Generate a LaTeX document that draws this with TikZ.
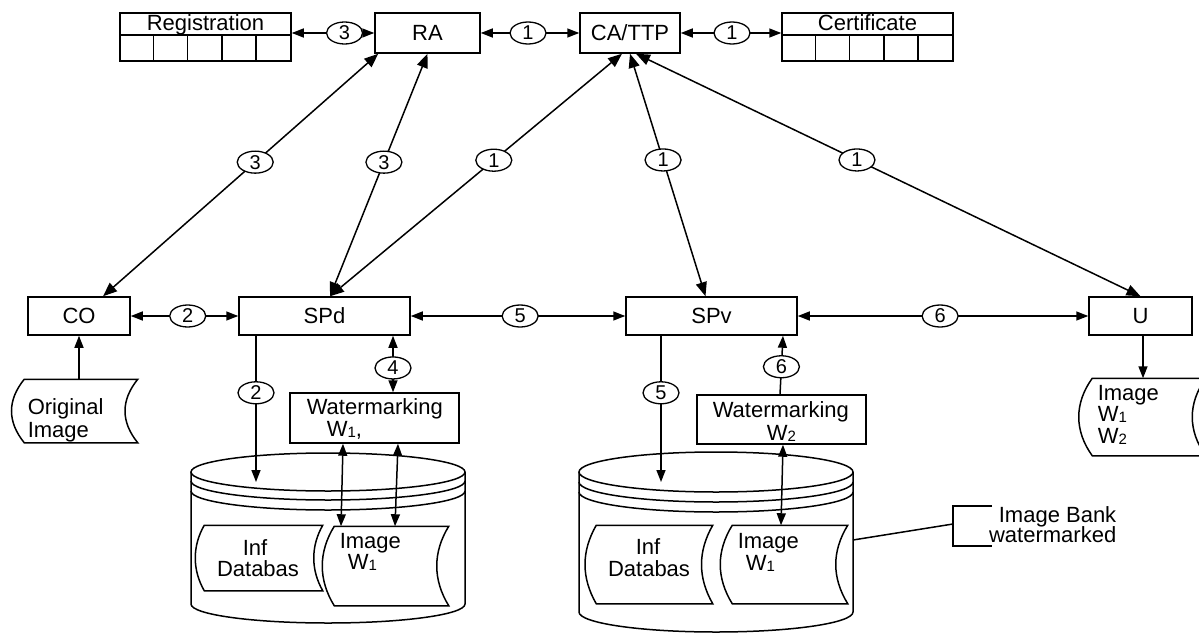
\documentclass[tikz,border=0pt]{standalone}
\usepackage{fontspec}
\setmainfont{Liberation Sans}
\usetikzlibrary{arrows.meta,shapes.geometric,calc}

% small lowered index digit, as in W1 / W2
\newcommand\sub[1]{\raisebox{-1pt}{\fontsize{15}{15}\selectfont #1}}
% "stored data" outline round an empty node: straight top and bottom,
% both sides bowed to the left
\newcommand\storedshape[3]{%
  \draw (#1.north west) -- (#1.north east)
    .. controls ($(#1.north east)+(-#2,#3)$) and ($(#1.south east)+(-#2,-#3)$) .. (#1.south east)
    -- (#1.south west)
    .. controls ($(#1.south west)+(-#2,-#3)$) and ($(#1.north west)+(-#2,#3)$) .. cycle;}

\begin{document}
\begin{tikzpicture}[x=1pt,y=-1pt,line width=1.5pt,
  every node/.style={font=\fontsize{22}{24}\selectfont},
  box/.style={draw,rectangle,inner sep=0pt},
  blank/.style={inner sep=0pt},
  txt/.style={inner sep=0pt},
  tag/.style={draw,ellipse,fill=white,inner sep=0pt,minimum width=36pt,
    minimum height=22pt,line width=1.3pt,font=\fontsize{20}{20}\selectfont},
  two/.style={{Triangle[length=12pt,width=9pt]}-{Triangle[length=12pt,width=9pt]}},
  twobig/.style={{Triangle[length=14pt,width=11pt]}-{Triangle[length=14pt,width=11pt]}},
  one/.style={-{Triangle[length=12pt,width=9pt]}}]

\useasboundingbox (0,0) rectangle (1199,634);
\fill[white] (0,0) rectangle (1199,634);

% ---------- top row ----------
\node[box,minimum width=105pt,minimum height=40pt] (ra) at (427.5,33) {RA};
\node[box,minimum width=100pt,minimum height=40pt] (ca) at (630,33) {CA/TTP};

\node[box,minimum width=171pt,minimum height=48pt] (reg) at (205.5,37) {};
\node[txt,anchor=base] (regt) at (205.5,31) {Registration};
\draw ([yshift=-23pt]reg.north west) -- ([yshift=-23pt]reg.north east);
\foreach \i in {1,...,4}
  \draw ([xshift=\i*34.2pt,yshift=-23pt]reg.north west) -- ([xshift=\i*34.2pt]reg.south west);

\node[box,minimum width=171pt,minimum height=48pt] (cert) at (867.5,37) {};
\node[txt,anchor=base] (certt) at (867.5,31) {Certificate};
\draw ([yshift=-23pt]cert.north west) -- ([yshift=-23pt]cert.north east);
\foreach \i in {1,...,4}
  \draw ([xshift=\i*34.2pt,yshift=-23pt]cert.north west) -- ([xshift=\i*34.2pt]cert.south west);

% ---------- middle row ----------
\node[box,minimum width=102pt,minimum height=38pt] (co) at (79,316) {CO};
\node[box,minimum width=171pt,minimum height=38pt] (spd) at (324.5,316) {SPd};
\node[box,minimum width=171pt,minimum height=38pt] (spv) at (711.5,316) {SPv};
\node[box,minimum width=103pt,minimum height=38pt] (u) at (1140.5,316) {U};

% watermarking units
\node[box,minimum width=169pt,minimum height=50pt] (wa) at (374.5,418) {};
\node[txt,anchor=base west] (wa1) at (306,414) {Watermarking};
\node[txt,anchor=base west] (wa2) at (326,436) {W\sub{1},};
\node[box,minimum width=169pt,minimum height=49pt] (wb) at (781.5,419.5) {};
\node[txt,anchor=base west] (wb1) at (712,417) {Watermarking};
\node[txt,anchor=base west] (wb2) at (766,440) {W\sub{2}};

% ---------- stored images ----------
\node[blank,minimum width=112pt,minimum height=62pt] (orig) at (81,411) {};
\storedshape{orig}{17}{21}
\node[txt,anchor=base west] (orig1) at (27,414) {Original};
\node[txt,anchor=base west] (orig2) at (27,437) {Image};

\node[blank,minimum width=112pt,minimum height=76pt] (imgu) at (1149,417) {};
\storedshape{imgu}{18}{25}
\node[txt,anchor=base west] (imgu1) at (1097,400) {Image};
\node[txt,anchor=base west] (imgu2) at (1097,421) {W\sub{1}};
\node[txt,anchor=base west] (imgu3) at (1097,443) {W\sub{2}};

% ---------- databases ----------
\draw[fill=white] (191,472) -- (191,604) arc[start angle=180,end angle=0,x radius=137,y radius=19] -- (465,472);
\draw (328,472) ellipse[x radius=137,y radius=19];
\draw (191,481) arc[start angle=180,end angle=0,x radius=137,y radius=19];
\draw (191,491) arc[start angle=180,end angle=0,x radius=137,y radius=19];

\node[blank,minimum width=117pt,minimum height=64pt] (infa) at (263.5,558) {};
\storedshape{infa}{12}{21}
\node[txt,anchor=base] (infa1) at (255,555) {Inf};
\node[txt,anchor=base] (infa2) at (258,576) {Databas};
\node[blank,minimum width=113pt,minimum height=78pt] (imga) at (391.5,566) {};
\storedshape{imga}{16}{26}
\node[txt,anchor=base west] (imga1) at (339,548) {Image};
\node[txt,anchor=base west] (imga2) at (347,569) {W\sub{1}};

\draw[fill=white] (579,472) -- (579,612) arc[start angle=180,end angle=0,x radius=137,y radius=20] -- (853,472);
\draw (716,472) ellipse[x radius=137,y radius=20];
\draw (579,482) arc[start angle=180,end angle=0,x radius=137,y radius=20];
\draw (579,492) arc[start angle=180,end angle=0,x radius=137,y radius=20];

\node[blank,minimum width=115pt,minimum height=77pt] (infb) at (654.5,564.5) {};
\storedshape{infb}{15}{26}
\node[txt,anchor=base] (infb1) at (648,554) {Inf};
\node[txt,anchor=base] (infb2) at (649,576) {Databas};
\node[blank,minimum width=114pt,minimum height=77pt] (imgb) at (790,564.5) {};
\storedshape{imgb}{16}{26}
\node[txt,anchor=base west] (imgb1) at (737,548) {Image};
\node[txt,anchor=base west] (imgb2) at (745,570) {W\sub{1}};

% image bank label
\coordinate (dbr) at (853,540);
\coordinate (bank) at (953,524);
\draw (992,506) -- (953,506) -- (953,546) -- (992,546);
\draw (dbr) -- (bank);
\node[txt,anchor=base east] (bank1) at (1117,522) {Image Bank};
\node[txt,anchor=base east] (bank2) at (1117,542) {watermarked};

% ---------- connectors ----------
\draw[two] (reg.east |- ra.west) -- node[tag,pos=0.64]{3} (ra.west);
\draw[two] (ra.east) -- node[tag,pos=0.48]{1} (ca.west);
\draw[two] (ca.east) -- node[tag,pos=0.51]{1} (cert.west |- ca.east);

\draw[twobig] ([xshift=24pt]co.north) -- node[tag,pos=0.553]{3} ([xshift=4pt]ra.south west);
\draw[twobig] ([xshift=5.5pt]spd.north) -- node[tag,pos=0.553]{3} (ra.south);
\draw[twobig] ([xshift=5.5pt]spd.north) -- node[tag,pos=0.561]{1} ([xshift=-8pt]ca.south);
\draw[twobig] (ca.south) -- node[tag,pos=0.438]{1} ([xshift=-6pt]spv.north);
\draw[twobig] ([xshift=6pt]ca.south) -- node[tag,pos=0.438]{1} (u.north);

\draw[two] (co.east) -- node[tag,pos=0.53]{2} (spd.west);
\draw[two] (spd.east) -- node[tag,pos=0.51]{5} (spv.west);
\draw[two] (spv.east) -- node[tag,pos=0.49]{6} (u.west);

\draw[one] (co.south |- orig.north) -- (co.south);

\coordinate (d1) at (256,482);
\draw[one] (spd.south -| d1) -- node[tag,pos=0.39]{2} (d1);
\coordinate (x4) at (393,0);
\draw[two] (spd.south -| x4) -- node[tag,pos=0.57]{4} (wa.north -| x4);
\coordinate (a1) at (343,0);
\coordinate (a2) at (341,0);
\coordinate (a3) at (398,0);
\coordinate (a4) at (395,0);
\draw[two] (wa.south -| a1) -- (imga.north -| a2);
\draw[two] (wa.south -| a3) -- (imga.north -| a4);

\coordinate (d2) at (661,482);
\draw[one] (spv.south -| d2) -- node[tag,pos=0.39]{5} (d2);
\coordinate (b6a) at (780,0);
\coordinate (b6b) at (783,0);
\draw[one] (wb.north -| b6a) -- node[tag,pos=0.47]{6} (spv.south -| b6b);
\coordinate (b1) at (783,0);
\coordinate (b2) at (781,0);
\draw[two] (wb.south -| b1) -- (imgb.north -| b2);

\draw[one] ([xshift=2.5pt]u.south) -- ([xshift=2.5pt]u.south |- imgu.north);
\end{tikzpicture}
\end{document}
